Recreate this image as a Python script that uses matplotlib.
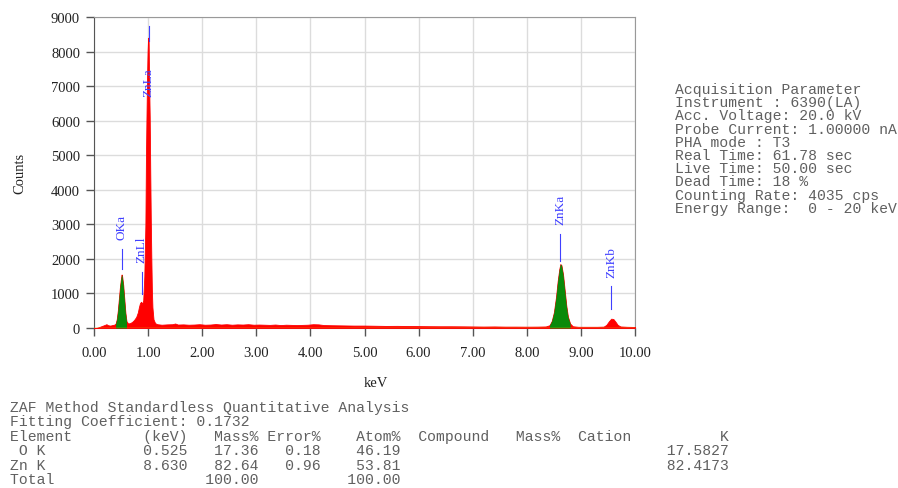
import matplotlib
matplotlib.use("Agg")
import matplotlib.pyplot as plt
import numpy as np

# EDS spectrum (keV, counts)
energy = [0.00, 0.05, 0.10, 0.15, 0.20, 0.23, 0.26, 0.30, 0.34, 0.38, 0.40, 0.42,
          0.44, 0.46, 0.48, 0.50, 0.51, 0.52, 0.54, 0.56, 0.58, 0.60, 0.63, 0.66,
          0.70, 0.74, 0.78, 0.81, 0.83, 0.85, 0.87, 0.89, 0.91, 0.93, 0.95, 0.96,
          0.97, 0.98, 0.99, 1.00, 1.01, 1.02, 1.03, 1.04, 1.05, 1.06, 1.07, 1.08,
          1.10, 1.13, 1.17, 1.25, 1.35, 1.45, 1.50, 1.55, 1.65, 1.75, 1.85, 1.95,
          2.05, 2.15, 2.25, 2.35, 2.45, 2.55, 2.65, 2.75, 2.85, 2.95, 3.05, 3.15,
          3.25, 3.35, 3.45, 3.55, 3.65, 3.75, 3.85, 3.95, 4.05, 4.15, 4.25, 4.40,
          4.60, 4.80, 5.00, 5.20, 5.40, 5.60, 5.80, 6.00, 6.20, 6.40, 6.60, 6.80,
          7.00, 7.20, 7.40, 7.60, 7.80, 8.00, 8.20, 8.35, 8.42, 8.46, 8.50, 8.54,
          8.57, 8.60, 8.62, 8.64, 8.67, 8.70, 8.73, 8.76, 8.80, 8.85, 8.95, 9.10,
          9.30, 9.42, 9.47, 9.52, 9.56, 9.60, 9.64, 9.68, 9.73, 9.85, 10.00]
counts = [0, 5, 30, 60, 90, 110, 80, 70, 85, 100, 130, 250,
          500, 850, 1200, 1450, 1550, 1500, 1250, 850, 450, 200, 130, 140,
          170, 230, 320, 450, 600, 720, 760, 700, 800, 1500, 3000, 4900,
          6100, 7200, 8000, 8400, 8300, 7000, 6100, 4500, 3100, 2000, 1100, 600,
          250, 140, 110, 95, 105, 110, 130, 100, 105, 95, 100, 110,
          95, 100, 115, 100, 110, 95, 105, 100, 110, 95, 100, 95,
          90, 100, 85, 95, 90, 85, 90, 95, 110, 105, 85, 80,
          75, 70, 70, 65, 60, 62, 58, 55, 52, 50, 50, 48,
          45, 42, 45, 40, 40, 38, 40, 45, 80, 200, 450, 900,
          1350, 1700, 1850, 1820, 1550, 1100, 650, 330, 130, 50, 35, 35,
          35, 40, 90, 200, 270, 260, 180, 90, 45, 35, 30]

# fitted peaks shown in green
green_ranges = [(0.40, 0.61), (8.40, 8.84)]

# peak identification markers
peak_names = ["OKa", "ZnLl", "ZnLa", "ZnKa", "ZnKb"]
peak_kev = [0.51, 0.88, 1.01, 8.62, 9.56]
marker_lo = [1700, 980, 8300, 1940, 550]
marker_hi = [2290, 1620, 8750, 2720, 1215]
label_start = [2580, 1900, 6710, 3010, 1475]

acq_lines = ["Acquisition Parameter",
             "Instrument : 6390(LA)",
             "Acc. Voltage: 20.0 kV",
             "Probe Current: 1.00000 nA",
             "PHA mode : T3",
             "Real Time: 61.78 sec",
             "Live Time: 50.00 sec",
             "Dead Time: 18 %",
             "Counting Rate: 4035 cps",
             "Energy Range:  0 - 20 keV"]

elements = [" O K", "Zn K"]
el_kev = ["0.525", "8.630"]
mass_pct = ["17.36", "82.64"]
error_pct = ["0.18", "0.96"]
atom_pct = ["46.19", "53.81"]
k_vals = ["17.5827", "82.4173"]

table = ["ZAF Method Standardless Quantitative Analysis",
         "Fitting Coefficient: 0.1732",
         f"{'Element':<15}{'(keV)':>5}{'Mass%':>8}{'Error%':>7}{'Atom%':>9}  "
         f"{'Compound':<11}{'Mass%':<7}{'Cation':<11}{'K':>6}"]
for i in range(len(elements)):
    table.append(f"{elements[i]:<15}{el_kev[i]:>5}{mass_pct[i]:>8}{error_pct[i]:>7}"
                 f"{atom_pct[i]:>9}{k_vals[i]:>37}")
table.append(f"{'Total':<15}{'':>5}{'100.00':>8}{'100.00':>16}")

serif = "Liberation Serif"
mono = "Liberation Mono"
txt_gray = "#606060"
blue = "#4040ff"

fig = plt.figure(figsize=(8.98, 4.89), dpi=100)
ax = fig.add_axes([94 / 898, 160 / 489, 541 / 898, 311 / 489])

e = np.array(energy)
c = np.array(counts)
ax.fill_between(e, 0, c, color="#ff0000", lw=0.6, edgecolor="#ff0000", zorder=3)
for lo, hi in green_ranges:
    m = (e >= lo) & (e <= hi)
    ax.fill_between(e[m], 0, c[m], color="#0a8a0a", lw=0, zorder=4)
ax.axhline(0, color="#e6c200", lw=1.0, zorder=5)

for name, x, lo, hi, ys in zip(peak_names, peak_kev, marker_lo, marker_hi, label_start):
    ax.plot([x, x], [lo, hi], color=blue, lw=0.8, zorder=6)
    ax.text(x, ys, name, rotation=90, ha="center", va="bottom", color=blue,
            fontsize=9.5, family=serif, zorder=6)

ax.set_xlim(0, 10)
ax.set_ylim(0, 9000)
ax.set_xticks(np.arange(0, 11, 1))
ax.set_xticklabels([f"{v:.2f}" for v in range(11)])
ax.set_yticks(np.arange(0, 9001, 1000))
ax.grid(True, color="#dcdcdc", lw=1.0)
ax.set_axisbelow(True)
for s in ax.spines.values():
    s.set_color("#999999")
ax.spines["left"].set_color("#555555")
ax.tick_params(direction="out", length=6, width=1, color="#555555",
               labelsize=10.5, pad=4)
ax.tick_params(axis="x", pad=7)
for lab in ax.get_xticklabels() + ax.get_yticklabels():
    lab.set_family(serif)
    lab.set_color("#222222")

ax.set_ylabel("Counts", family=serif, fontsize=10.5, color="#222222")
ax.yaxis.set_label_coords(-0.125, 0.5)
ax.set_xlabel("keV", family=serif, fontsize=10.5, color="#222222")
ax.xaxis.set_label_coords(0.522, -0.155)

# acquisition parameters on the right
for i, line in enumerate(acq_lines):
    fig.text(675 / 898, 1 - (90 + i * 13.2) / 489, line, family=mono,
             fontsize=10.6, color=txt_gray, va="center", ha="left")

# quantitative results below the plot
for i, line in enumerate(table):
    fig.text(10 / 898, 1 - (408 + i * 14.4) / 489, line, family=mono,
             fontsize=10.6, color=txt_gray, va="center", ha="left")

fig.savefig("out.png", dpi=100)
